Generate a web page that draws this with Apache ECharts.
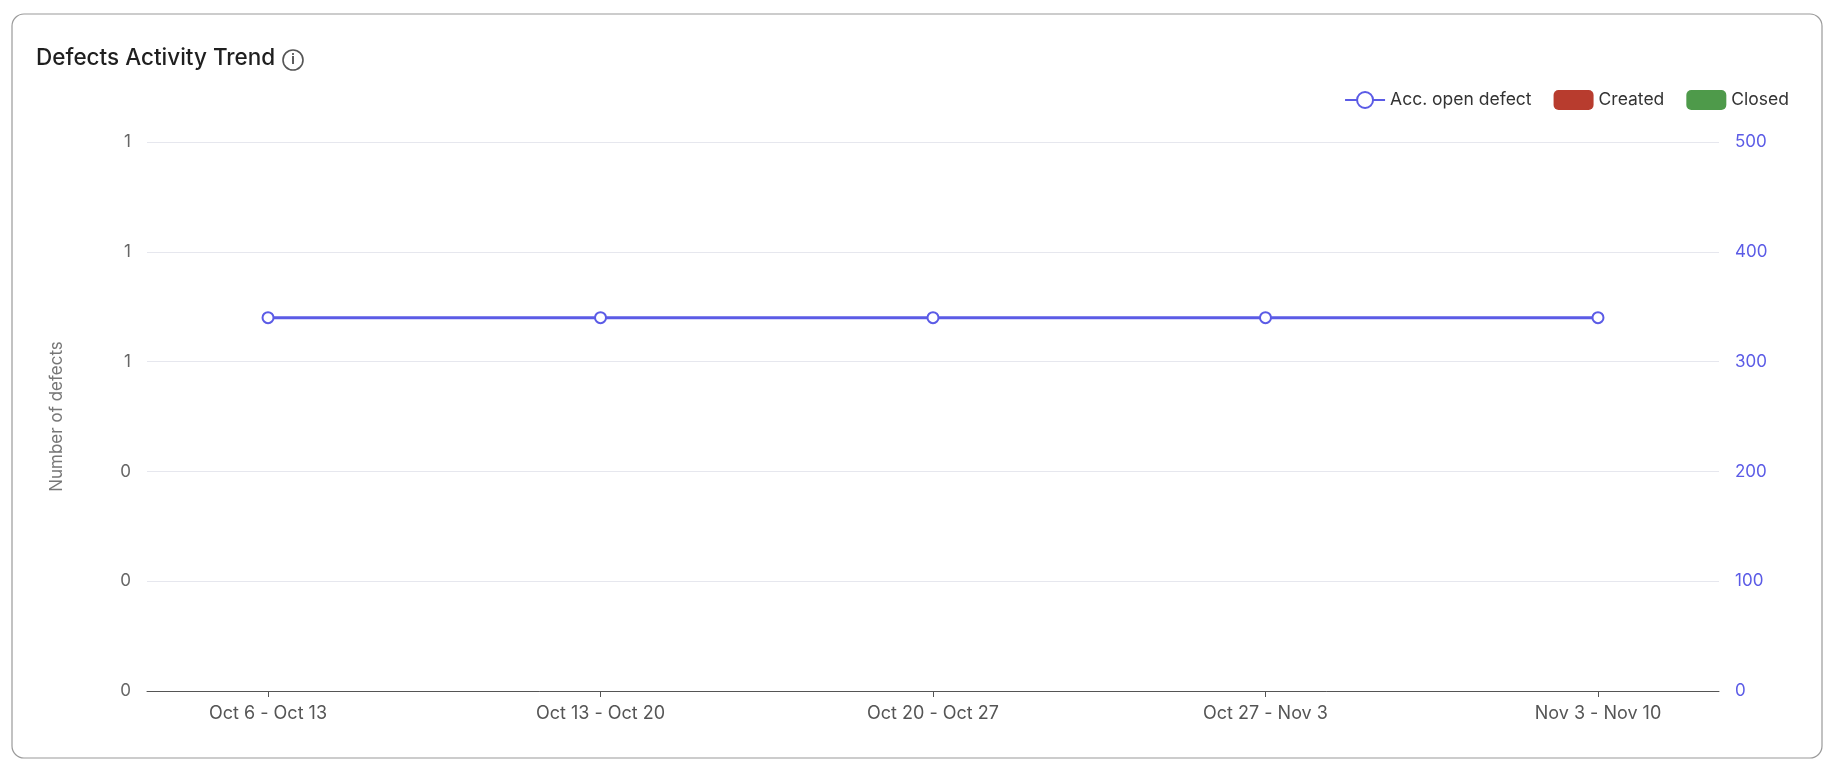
<!DOCTYPE html>
<html><head><meta charset="utf-8">
<script src="https://cdn.jsdelivr.net/npm/echarts@6/dist/echarts.min.js"></script>
<style>html,body{margin:0;padding:0;background:#fff}#c{width:1834px;height:774px}</style>
</head><body><div id="c"></div>
<script>
const categories = ['Oct 6 - Oct 13','Oct 13 - Oct 20','Oct 20 - Oct 27','Oct 27 - Nov 3','Nov 3 - Nov 10'];
const accOpen = [340,340,340,340,340];
const created = [0,0,0,0,0];
const closed = [0,0,0,0,0];
const idx = categories.map((c,i)=>i);
const chart = echarts.init(document.getElementById('c'));
const F = 'Inter, "Noto Sans", sans-serif';
chart.setOption({
  animation:false,
  textStyle:{fontFamily:F},
  graphic:[
    {type:'rect',shape:{x:12,y:14,width:1810,height:744,r:12},style:{fill:'#fff',stroke:'#9a9a9a',lineWidth:1.2},z:-10},
    {type:'text',left:36,top:47,style:{text:'Defects Activity Trend',fontSize:22.5,fontWeight:500,fill:'#1f1f1f',fontFamily:F}},
    {type:'circle',shape:{cx:293,cy:60,r:10},style:{fill:'none',stroke:'#555',lineWidth:1.6}},
    {type:'text',x:293,y:60,style:{text:'i',fontSize:13,fontWeight:'bold',fill:'#555',align:'center',verticalAlign:'middle',fontFamily:F}}
  ],
  legend:{right:40,top:85,itemGap:22,itemWidth:40,itemHeight:20,textStyle:{fontSize:17.5,color:'#333'},
    data:[{name:'Acc. open defect'},{name:'Created',icon:'roundRect'},{name:'Closed',icon:'roundRect'}]},
  grid:{left:147,right:115,top:142,bottom:83},
  xAxis:{type:'value',min:-0.364,max:4.364,
    axisLine:{onZero:false,lineStyle:{color:'#555'}},
    axisTick:{show:true,length:6,lineStyle:{color:'#555'},customValues:idx},
    axisLabel:{fontSize:18,color:'#555',margin:14,customValues:idx,formatter:v=>categories[Math.round(v)]},
    splitLine:{show:false}},
  yAxis:[
    {type:'value',min:0,max:1,interval:0.2,name:'Number of defects',nameLocation:'middle',nameGap:82,nameRotate:90,
     nameTextStyle:{fontSize:17,color:'#777'},axisLine:{show:false},axisTick:{show:false},
     axisLabel:{fontSize:17,color:'#666',margin:16,formatter:v=>Math.round(v)},
     splitLine:{lineStyle:{color:'#e6e7ee'}}},
    {type:'value',min:0,max:500,interval:100,position:'right',axisLine:{show:false},axisTick:{show:false},
     axisLabel:{fontSize:17,color:'#5b5be6',margin:16},splitLine:{show:false}}
  ],
  series:[
    {name:'Acc. open defect',type:'line',yAxisIndex:1,data:accOpen.map((v,i)=>[i,v]),color:'#5b5be6',
     symbol:'emptyCircle',symbolSize:11,lineStyle:{width:3},itemStyle:{borderWidth:3}},
    {name:'Created',type:'bar',data:created.map((v,i)=>[i,v]),color:'#b83c2e'},
    {name:'Closed',type:'bar',data:closed.map((v,i)=>[i,v]),color:'#4e9a4a'}
  ]
});
</script></body></html>
